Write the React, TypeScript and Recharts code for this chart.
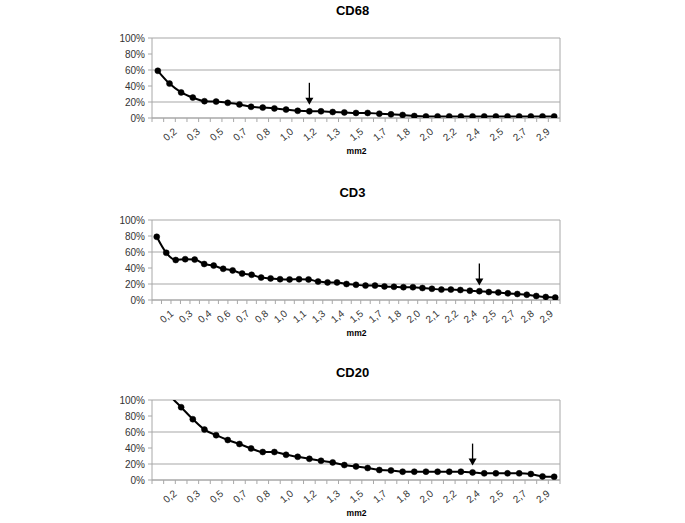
import React from 'react';
import { LineChart, Line, XAxis, YAxis, CartesianGrid, ReferenceDot } from 'recharts';

// CD68 / CD20: 35 sampled areas, CD3: 43
const cd68Values = [59, 43, 32, 25.5, 21, 20.5, 19, 17, 14, 13, 12, 10.5, 9, 8.4, 8.4, 7.5, 7, 6.3, 6.3, 5.4, 4.6, 3.8, 2.5, 2, 2, 2, 2, 2, 2, 2, 2, 2, 2, 2, 2];
const cd68Labels = ['0,2', '0,3', '0,5', '0,7', '0,8', '1,0', '1,2', '1,3', '1,5', '1,7', '1,8', '2,0', '2,2', '2,4', '2,5', '2,7', '2,9'];

const cd3Values = [79, 59, 50, 51, 50.5, 45, 43, 39, 37, 33, 31.5, 28, 27, 26, 25.7, 26, 25.7, 23, 22, 22, 20, 19, 18, 18, 17, 16.5, 16, 16, 15, 14, 13, 13, 12.5, 11.6, 11, 10, 9.5, 8.3, 7.5, 6.6, 5, 3.7, 3];
const cd3Labels = ['0,1', '0,3', '0,4', '0,6', '0,7', '0,8', '1,0', '1,1', '1,3', '1,4', '1,5', '1,7', '1,8', '2,0', '2,1', '2,2', '2,4', '2,5', '2,7', '2,8', '2,9'];

const cd20Values = [125, 106, 91, 76, 63, 56, 50, 45, 39.5, 35, 35, 31.5, 29, 26.5, 24, 22, 18.7, 17, 15, 12.5, 12, 10.4, 10.4, 10.4, 10.4, 10.4, 10.4, 9.5, 8.3, 8.3, 8.3, 8.3, 7.5, 4.5, 4];
const cd20Labels = cd68Labels;

const yTicks = [0, 20, 40, 60, 80, 100];

const FONT = '"Liberation Sans", Arial, sans-serif';
const GRID = '#a8a8a8';
const W = 685;
const H = 171;
const M = { top: 38, right: 124, bottom: 13, left: 100 };
const YW = 52;
const PLOT_W = W - M.left - YW - M.right - 1;

const XTick = (props: any) => {
  const { x, y, payload, labels, n } = props;
  const i = payload.index;
  const bw = PLOT_W / n;
  const label = i % 2 === 1 ? labels[(i - 1) / 2] : null;
  return (
    <g>
      {i === 0 && <line x1={x - bw / 2} x2={x - bw / 2} y1={y} y2={y + 4} stroke={GRID} />}
      <line x1={x + bw / 2} x2={x + bw / 2} y1={y} y2={y + 4} stroke={GRID} />
      {label && (
        <text
          x={x + 1}
          y={y + 17}
          transform={`rotate(-40, ${x + 1}, ${y + 17})`}
          textAnchor="middle"
          dominantBaseline="middle"
          fontSize={10}
          fill="#333"
          fontFamily={FONT}
        >
          {label}
        </text>
      )}
    </g>
  );
};

const Arrow = (props: any) => {
  const { cx, cy } = props;
  return (
    <g>
      <line x1={cx} x2={cx} y1={cy - 22} y2={cy - 5} stroke="#000" strokeWidth={1.3} />
      <polygon points={`${cx - 4},${cy - 7} ${cx + 4},${cy - 7} ${cx},${cy}`} fill="#000" />
    </g>
  );
};

interface PanelProps {
  title: string;
  values: number[];
  labels: string[];
  arrowAt: number;
  arrowY: number;
  top: number;
  xLabelTop: number;
}

const Panel: React.FC<PanelProps> = ({ title, values, labels, arrowAt, arrowY, top, xLabelTop }) => {
  const data = values.map((v, i) => ({ i, v }));
  const half = PLOT_W / values.length / 2;
  return (
    <>
      <div style={{ position: 'absolute', left: 0, width: 705, top: top + 3, textAlign: 'center', fontFamily: FONT, fontWeight: 'bold', fontSize: 13 }}>
        {title}
      </div>
      <div style={{ position: 'absolute', left: 0, width: 713, top: xLabelTop, textAlign: 'center', fontFamily: FONT, fontWeight: 'bold', fontSize: 8.5 }}>
        mm2
      </div>
      <div style={{ position: 'absolute', left: 0, top }}>
        <LineChart width={W} height={H} data={data} margin={M}>
          <CartesianGrid vertical={false} stroke={GRID} strokeWidth={1.2} />
          <XAxis
            dataKey="i"
            type="category"
            interval={0}
            padding={{ left: half, right: half }}
            tickLine={false}
            tickSize={0}
            tickMargin={0}
            axisLine={{ stroke: GRID }}
            tick={<XTick labels={labels} n={values.length} />}
            height={40}
          />
          <YAxis
            domain={[0, 100]}
            ticks={yTicks}
            allowDataOverflow
            width={YW}
            tickSize={4}
            tickMargin={3}
            axisLine={{ stroke: GRID }}
            tickLine={{ stroke: GRID }}
            tickFormatter={(v: number) => `${v}%`}
            tick={{ fontSize: 10, fill: '#333', fontFamily: FONT }}
          />
          <YAxis
            yAxisId="r"
            orientation="right"
            domain={[0, 100]}
            width={1}
            tick={false}
            tickLine={false}
            axisLine={{ stroke: GRID }}
          />
          <Line
            dataKey="v"
            type="monotone"
            stroke="#000"
            strokeWidth={2}
            dot={{ r: 3, fill: '#000', stroke: '#000', strokeWidth: 0.5 }}
            isAnimationActive={false}
          />
          <ReferenceDot x={arrowAt} y={arrowY} r={0} shape={<Arrow />} ifOverflow="visible" />
        </LineChart>
      </div>
    </>
  );
};

export default function App() {
  return (
    <div style={{ position: 'absolute', left: 0, top: 0, width: 685, height: 523, background: '#fff', overflow: 'hidden' }}>
      <Panel title="CD68" values={cd68Values} labels={cd68Labels} arrowAt={13} arrowY={16.5} top={0} xLabelTop={146} />
      <Panel title="CD3" values={cd3Values} labels={cd3Labels} arrowAt={34} arrowY={18} top={182} xLabelTop={328} />
      <Panel title="CD20" values={cd20Values} labels={cd20Labels} arrowAt={27} arrowY={18} top={362} xLabelTop={508} />
    </div>
  );
}
